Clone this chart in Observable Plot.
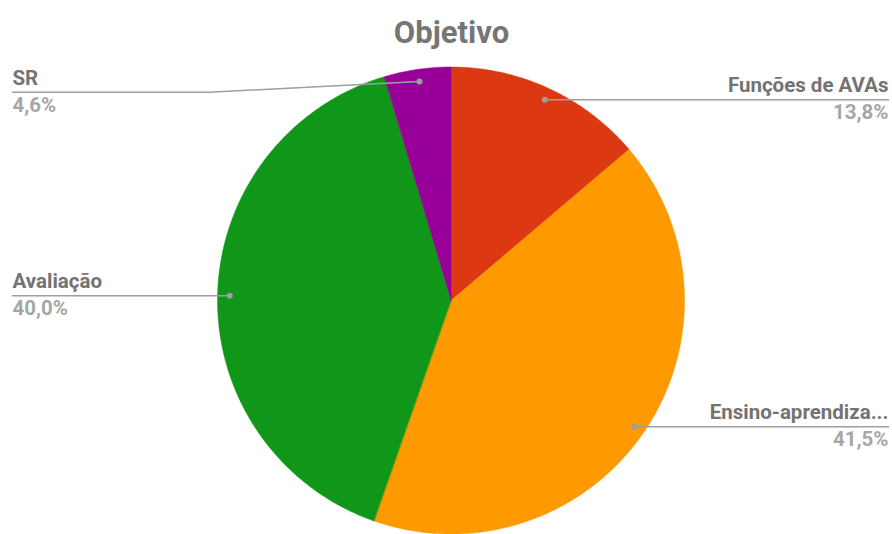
<!DOCTYPE html>
<html>
<head>
<meta charset="utf-8">
<script src="https://cdn.jsdelivr.net/npm/d3@7"></script>
<script src="https://cdn.jsdelivr.net/npm/@observablehq/plot@0.6"></script>
<style>
  html, body { margin: 0; padding: 0; background: #fff; }
  #chart svg { display: block; }
</style>
</head>
<body>
<div id="chart"></div>
<script>
// ---- data ----
const title = "Objetivo";
const categories = ["Funções de AVAs", "Ensino-aprendiza...", "Avaliação", "SR"];
const values = [13.8, 41.5, 40.0, 4.6];
const percentLabels = ["13,8%", "41,5%", "40,0%", "4,6%"];
const colors = ["#dc3912", "#ff9900", "#109618", "#990099"];

// ---- layout (pixels) ----
const W = 892, H = 534;
const cx = 451, cy = 300.5, R = 233.5;
const leftEdge = 12, rightEdge = 888;
const minLabelY = 91.7; // topmost label line allowed (pixels)
const labelSize = 20.5;

const total = d3.sum(values);
// pie wedges (angles clockwise from 12 o'clock), in unit-radius coordinates
const wedgePts = [];
const slices = [];
let acc = 0;
categories.forEach((c, i) => {
  const a0 = acc / total * 2 * Math.PI;
  acc += values[i];
  const a1 = acc / total * 2 * Math.PI;
  const n = Math.max(4, Math.ceil((a1 - a0) / 0.01));
  for (let k = 0; k <= n; k++) {
    const t = a0 + (a1 - a0) * k / n;
    wedgePts.push({key: c, x: Math.sin(t), y: Math.cos(t)});
  }
  const mid = (a0 + a1) / 2;
  const dx = 0.95 * Math.sin(mid), dy = 0.95 * Math.cos(mid);
  const side = Math.sin(mid) >= 0 ? 1 : -1;
  slices.push({key: c, pct: percentLabels[i], mid, dx, dy, side});
});

// unit conversions
const toU = px => (px - cx) / R;
const toV = py => (cy - py) / R;
const maxV = toV(minLabelY);

const leaderPts = [];
const labels = [];
slices.forEach(s => {
  const ly = Math.min(s.dy, maxV);
  const endX = s.side > 0 ? toU(rightEdge) : toU(leftEdge);
  const elbowX = s.dx + s.side * 0.9;
  leaderPts.push({key: s.key, x: s.dx, y: s.dy});
  leaderPts.push({key: s.key, x: elbowX, y: ly});
  leaderPts.push({key: s.key, x: endX, y: ly});
  labels.push({key: s.key, pct: s.pct, x: endX, y: ly, anchor: s.side > 0 ? "end" : "start"});
});

const right = labels.filter(d => d.anchor === "end");
const left = labels.filter(d => d.anchor === "start");

const chart = Plot.plot({
  width: W,
  height: H,
  margin: 0,
  style: {fontFamily: "Roboto, sans-serif", background: "#fff"},
  x: {domain: [toU(0), toU(W)], axis: null},
  y: {domain: [toV(H), toV(0)], axis: null},
  color: {domain: categories, range: colors},
  marks: [
    Plot.area(wedgePts, {x1: "x", y1: "y", x2: 0, y2: 0, z: "key", fill: "key", stroke: "key", strokeWidth: 0.5}),
    Plot.line(leaderPts, {x: "x", y: "y", z: "key", stroke: "#9e9e9e", strokeWidth: 1.5}),
    Plot.dot(slices, {x: "dx", y: "dy", r: 3, fill: "#9e9e9e"}),
    Plot.text(right, {x: "x", y: "y", text: "key", textAnchor: "end", dy: -14, fontSize: labelSize, fontWeight: "bold", fill: "#737373"}),
    Plot.text(left, {x: "x", y: "y", text: "key", textAnchor: "start", dy: -14, fontSize: labelSize, fontWeight: "bold", fill: "#737373"}),
    Plot.text(right, {x: "x", y: "y", text: "pct", textAnchor: "end", dy: 13, fontSize: labelSize, fontWeight: "bold", fill: "#a6a6a6"}),
    Plot.text(left, {x: "x", y: "y", text: "pct", textAnchor: "start", dy: 13, fontSize: labelSize, fontWeight: "bold", fill: "#a6a6a6"}),
    Plot.text([title], {x: 0, frameAnchor: "top", text: d => d, dy: 20, fontSize: 31, fontWeight: "bold", fill: "#757575"})
  ]
});
document.getElementById("chart").append(chart);
</script>
</body>
</html>
